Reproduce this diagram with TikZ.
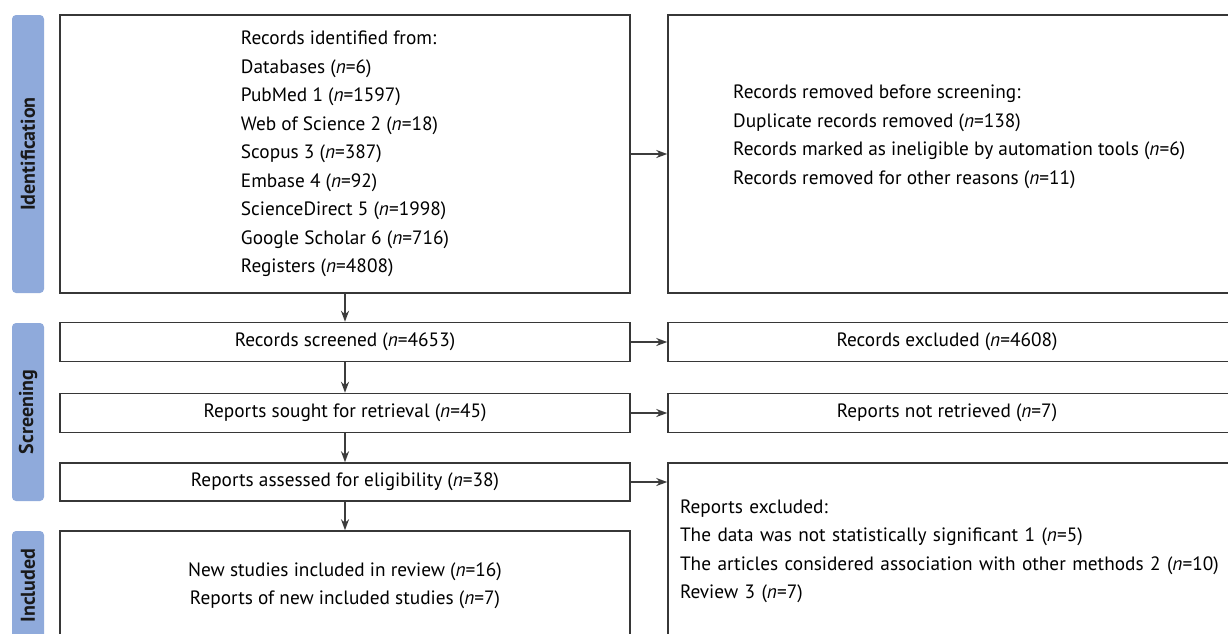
\documentclass[tikz,border=0pt]{standalone}
\usepackage{fontspec}
\setmainfont{PT Sans}
\usepackage{xcolor}
\definecolor{bandblue}{RGB}{143,170,219}
\definecolor{boxgray}{RGB}{55,55,55}
\definecolor{arrgray}{RGB}{60,60,60}
\usetikzlibrary{arrows.meta,positioning}
\newcommand{\nn}{\textit{n}}

\begin{document}
\begin{tikzpicture}[x=1pt,y=-1pt,
  band/.style={fill=bandblue,rounded corners=4pt,rotate=90,minimum height=32pt,
    inner sep=0pt,font=\fontsize{20}{22}\selectfont\bfseries,text=black!90},
  box/.style={draw=boxgray,line width=1.5pt,minimum width=570pt,inner sep=0pt,
    font=\fontsize{19.3}{28.5}\selectfont,align=center},
  rbox/.style={box,minimum width=564pt},
  arr/.style={-{Stealth[length=11pt,width=8pt]},line width=1.8pt,arrgray}
]
  \useasboundingbox (0,0) rectangle (1228,633);
  \clip (0,0) rectangle (1228,633);

  % Phase bands
  \node[band,minimum width=278pt] (bandid) at (28,154) {Identification};
  \node[band,minimum width=178pt] (bandsc) at (28,412) {Screening};
  \node[band,minimum width=109pt] (bandin) at (28,585.5) {Included};

  % Left column
  \node[box,minimum height=278pt,align=left] (ident) at (345,154)
    {Records identified from:\\Databases (\nn=6)\\PubMed 1 (\nn=1597)\\
     Web of Science 2 (\nn=18)\\Scopus 3 (\nn=387)\\Embase 4 (\nn=92)\\
     ScienceDirect 5 (\nn=1998)\\Google Scholar 6 (\nn=716)\\Registers (\nn=4808)};
  \node[box,minimum height=39pt] (screened) at (345,342) {Records screened (\nn=4653)};
  \node[box,minimum height=39pt] (sought) at (345,413) {Reports sought for retrieval (\nn=45)};
  \node[box,minimum height=38pt] (assessed) at (345,482) {Reports assessed for eligibility (\nn=38)};
  \node[box,minimum height=109pt] (included) at (345,585.5)
    {New studies included in review (\nn=16)\\Reports of new included studies (\nn=7)};

  % Right column
  \node[rbox,minimum height=278pt] (removed) at (950,154) {};
  \node[font=\fontsize{19.3}{28.5}\selectfont,align=left,anchor=west,inner sep=0pt]
    (removedtxt) at (733,137) {Records removed before screening:\\
     Duplicate records removed (\nn=138)\\
     Records marked as ineligible by automation tools (\nn=6)\\
     Records removed for other reasons (\nn=11)};
  \node[rbox,minimum height=39pt] (excluded) at (950,342) {\hspace*{-6pt}Records excluded (\nn=4608)};
  \node[rbox,minimum height=39pt] (notret) at (950,413) {\hspace*{-6pt}Reports not retrieved (\nn=7)};
  \node[rbox,minimum height=177pt,text width=570pt,inner xsep=12pt,align=left] (repexcl) at (965,551.5)
    {Reports excluded:\\The data was not statistically significant 1 (\nn=5)\\
     The articles considered association with other methods 2 (\nn=10)\\Review 3 (\nn=7)};

  % Arrows
  \draw[arr] (ident) -- (screened);
  \draw[arr] (screened) -- (sought);
  \draw[arr] (sought) -- (assessed);
  \draw[arr] (assessed) -- (included);
  \draw[arr] (ident.east) -- (removed.west);
  \draw[arr] (screened.east) -- (excluded.west);
  \draw[arr] (sought.east) -- (notret.west);
  \draw[arr] (assessed.east) -- (assessed.east -| repexcl.west);
\end{tikzpicture}
\end{document}
